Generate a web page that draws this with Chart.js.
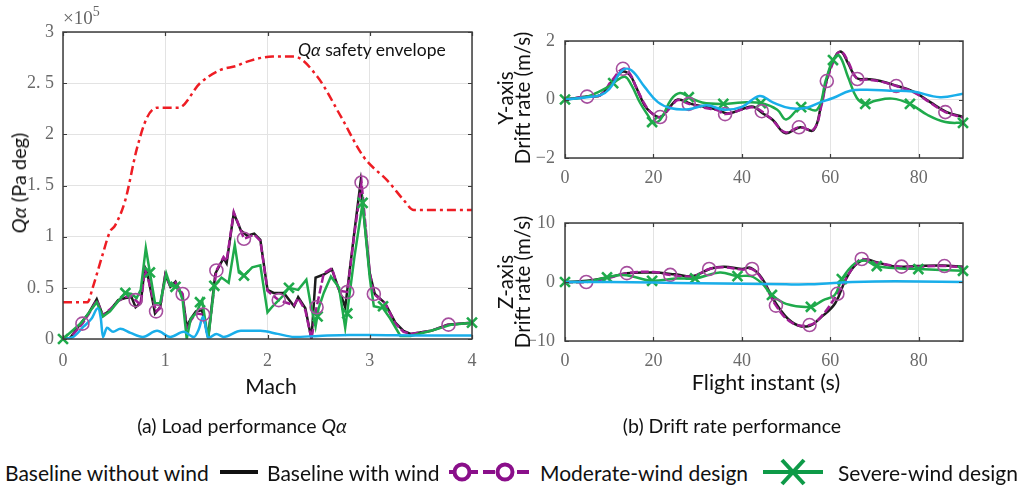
<!DOCTYPE html>
<html>
<head>
<meta charset="utf-8">
<script src="https://cdn.jsdelivr.net/npm/chart.js@4.4.1/dist/chart.umd.min.js"></script>
<style>
  body { margin: 0; background: #fff; width: 1031px; height: 489px; position: relative; overflow: hidden; font-family: Lato, "Noto Sans", sans-serif; color: #111; }
  canvas { position: absolute; }
  .txt { position: absolute; white-space: nowrap; }
  .rot { position: absolute; transform: translate(-50%, -50%) rotate(-90deg); text-align: center; white-space: nowrap; }
  .ctr { transform: translate(-50%, -50%); }
  .leg { position: absolute; top: 460px; font-size: 21px; white-space: nowrap; }
</style>
</head>
<body>
<canvas id="qaChart" width="490" height="400" style="left:0;top:0"></canvas>
<canvas id="yChart" width="541" height="200" style="left:490px;top:0"></canvas>
<canvas id="zChart" width="541" height="200" style="left:490px;top:200px"></canvas>

<div class="txt" style="left:63px;top:5px;font:19px 'Liberation Serif';color:#666">&times;10<sup style="font-size:14px;position:relative;top:-1px">5</sup></div>
<div class="txt" style="left:298px;top:39px;font-size:17.5px"><i>Q&alpha;</i> safety envelope</div>
<div class="rot" style="left:18px;top:183px;font-size:20px"><i>Q&alpha;</i> (Pa deg)</div>
<div class="txt ctr" style="left:271px;top:385px;font-size:21px">Mach</div>
<div class="rot" style="left:514px;top:98px;font-size:20.5px;line-height:17px">Y-axis<br>Drift rate (m/s)</div>
<div class="rot" style="left:514px;top:282px;font-size:20.5px;line-height:17px">Z-axis<br>Drift rate (m/s)</div>
<div class="txt ctr" style="left:766px;top:382px;font-size:21.5px">Flight instant (s)</div>
<div class="txt ctr" style="left:242px;top:425px;font-size:19.5px">(a) Load performance <i>Q&alpha;</i></div>
<div class="txt ctr" style="left:732px;top:425px;font-size:19.5px">(b) Drift rate performance</div>

<div class="leg" style="left:5px">Baseline without wind</div>
<svg style="position:absolute;left:218px;top:462px" width="44" height="20"><line x1="2" y1="10" x2="40" y2="10" stroke="#111" stroke-width="4"/></svg>
<div class="leg" style="left:267px">Baseline with wind</div>
<svg style="position:absolute;left:447px;top:460px" width="84" height="24">
  <line x1="2" y1="12" x2="82" y2="12" stroke="#8a0f8a" stroke-width="4" stroke-dasharray="12,5"/>
  <circle cx="15" cy="12" r="7.5" fill="#fff" stroke="#8a0f8a" stroke-width="4"/>
  <circle cx="58" cy="12" r="7.5" fill="#fff" stroke="#8a0f8a" stroke-width="4"/>
</svg>
<div class="leg" style="left:540px">Moderate-wind design</div>
<svg style="position:absolute;left:760px;top:458px" width="66" height="28">
  <line x1="3" y1="14" x2="63" y2="14" stroke="#0e9a48" stroke-width="4"/>
  <line x1="22" y1="2" x2="44" y2="26" stroke="#0e9a48" stroke-width="4"/>
  <line x1="44" y1="2" x2="22" y2="26" stroke="#0e9a48" stroke-width="4"/>
</svg>
<div class="leg" style="left:838px">Severe-wind design</div>

<script>
// ---- Q-alpha vs Mach (values in units of 1e5 Pa deg) ----
const envMach = [0, 0.24, 0.29, 0.38, 0.46, 0.51, 0.61, 0.72, 0.82, 0.92, 1.13, 1.34, 1.54, 1.7, 1.77, 2.05, 2.26, 2.49, 2.72, 2.94, 3.18, 3.33, 3.43, 4.0];
const envQa = [0.36, 0.36, 0.5, 0.8, 1.05, 1.11, 1.36, 1.85, 2.16, 2.26, 2.26, 2.5, 2.63, 2.67, 2.7, 2.76, 2.76, 2.56, 2.17, 1.78, 1.54, 1.36, 1.26, 1.26];

const noWindMach = [0, 0.1, 0.2, 0.28, 0.34, 0.37, 0.39, 0.43, 0.49, 0.56, 0.66, 0.78, 0.92, 1.05, 1.18, 1.28, 1.33, 1.37, 1.42, 1.5, 1.57, 1.74, 1.93, 2.1, 2.26, 2.5, 2.8, 3.0, 3.5, 4.0];
const noWindQa = [0, 0.02, 0.12, 0.2, 0.3, 0.2, 0.02, 0.11, 0.07, 0.1, 0.06, 0.02, 0.08, 0.02, 0.07, 0.02, 0.1, 0.22, 0.01, 0.05, 0.02, 0.08, 0.08, 0.05, 0.02, 0.03, 0.04, 0.04, 0.035, 0.035];

const windMach = [0, 0.07, 0.18, 0.25, 0.33, 0.39, 0.46, 0.54, 0.61, 0.67, 0.71, 0.76, 0.8, 0.83, 0.9, 0.95, 1.0, 1.05, 1.1, 1.17, 1.21, 1.25, 1.3, 1.36, 1.42, 1.49, 1.57, 1.6, 1.67, 1.74, 1.8, 1.87, 1.93, 2.0, 2.06, 2.16, 2.26, 2.3, 2.37, 2.43, 2.47, 2.55, 2.63, 2.7, 2.76, 2.85, 2.91, 3.0, 3.05, 3.15, 3.25, 3.33, 3.4, 3.6, 3.76, 4.0];
const windQa = [0, 0.01, 0.16, 0.25, 0.39, 0.23, 0.28, 0.38, 0.4, 0.41, 0.31, 0.35, 0.7, 0.62, 0.25, 0.31, 0.63, 0.51, 0.56, 0.41, 0.12, 0.2, 0.27, 0.28, 0.02, 0.64, 0.79, 0.74, 1.23, 1.06, 1.01, 1.03, 0.97, 0.48, 0.45, 0.45, 0.32, 0.41, 0.3, 0.0, 0.6, 0.63, 0.68, 0.48, 0.31, 1.05, 1.53, 0.64, 0.44, 0.35, 0.16, 0.08, 0.05, 0.08, 0.14, 0.16];

const modMach = [0, 0.07, 0.19, 0.25, 0.33, 0.39, 0.46, 0.54, 0.61, 0.67, 0.71, 0.76, 0.8, 0.83, 0.91, 0.95, 1.0, 1.05, 1.1, 1.17, 1.21, 1.25, 1.3, 1.37, 1.42, 1.5, 1.57, 1.6, 1.67, 1.77, 1.8, 1.87, 1.93, 2.0, 2.06, 2.11, 2.26, 2.3, 2.37, 2.43, 2.48, 2.55, 2.63, 2.7, 2.78, 2.85, 2.92, 3.0, 3.04, 3.15, 3.25, 3.33, 3.4, 3.6, 3.77, 4.0];
const modQa = [0, 0.01, 0.15, 0.24, 0.38, 0.23, 0.29, 0.37, 0.41, 0.42, 0.38, 0.33, 0.68, 0.6, 0.27, 0.3, 0.62, 0.52, 0.55, 0.44, 0.1, 0.18, 0.25, 0.24, 0.02, 0.67, 0.8, 0.76, 1.24, 0.98, 0.99, 1.02, 0.96, 0.47, 0.42, 0.38, 0.33, 0.4, 0.28, 0.0, 0.31, 0.64, 0.69, 0.47, 0.46, 1.03, 1.53, 0.65, 0.44, 0.35, 0.15, 0.07, 0.05, 0.08, 0.14, 0.16];
const modMarkMach = [0.19, 0.71, 0.91, 1.17, 1.37, 1.5, 1.77, 2.11, 2.48, 2.78, 2.92, 3.04, 3.77];
const modMarkQa = [0.15, 0.38, 0.27, 0.44, 0.24, 0.67, 0.98, 0.38, 0.31, 0.46, 1.53, 0.44, 0.14];

const sevMach = [0, 0.18, 0.33, 0.39, 0.46, 0.54, 0.61, 0.67, 0.72, 0.76, 0.81, 0.85, 0.9, 0.95, 1.01, 1.05, 1.1, 1.13, 1.17, 1.21, 1.25, 1.3, 1.36, 1.42, 1.48, 1.55, 1.62, 1.68, 1.72, 1.77, 1.85, 1.93, 2.0, 2.05, 2.15, 2.21, 2.3, 2.38, 2.42, 2.47, 2.5, 2.55, 2.62, 2.7, 2.76, 2.85, 2.93, 3.0, 3.04, 3.13, 3.2, 3.3, 3.4, 3.6, 3.8, 4.0];
const sevQa = [0, 0.16, 0.36, 0.22, 0.27, 0.37, 0.45, 0.44, 0.4, 0.48, 0.89, 0.65, 0.35, 0.35, 0.64, 0.52, 0.51, 0.5, 0.38, 0.0, 0.2, 0.25, 0.38, 0.0, 0.52, 0.6, 0.55, 0.92, 0.65, 0.62, 0.7, 0.72, 0.26, 0.32, 0.42, 0.5, 0.48, 0.58, 0.35, 0.12, 0.3, 0.45, 0.61, 0.5, 0.11, 0.8, 1.33, 0.6, 0.32, 0.3, 0.2, 0.03, 0.03, 0.08, 0.14, 0.16];
const sevMarkMach = [0, 0.61, 0.85, 1.1, 1.34, 1.48, 1.77, 2.21, 2.49, 2.78, 2.93, 3.13, 4.0];
const sevMarkQa = [0, 0.45, 0.65, 0.51, 0.36, 0.52, 0.62, 0.5, 0.22, 0.25, 1.33, 0.32, 0.16];

// ---- Y-axis drift rate (m/s) vs flight time (s) ----
const yNoWindT = [0, 5, 8, 10, 13, 15, 18, 21, 24, 28, 32, 36, 40, 44, 47, 51, 54.7, 57.7, 60.6, 64.5, 68.3, 73.5, 78.7, 84.8, 90];
const yNoWindV = [0, 0.08, 0.15, 0.35, 1.0, 1.0, 0.43, -0.09, -0.3, -0.33, -0.2, -0.35, -0.25, 0.12, -0.1, -0.3, -0.28, -0.1, 0.05, 0.3, 0.33, 0.3, 0.27, 0.08, 0.2];
const yWindT = [0, 5, 8, 10.6, 13, 14.6, 16, 18, 19.5, 21.5, 24, 25.5, 28.5, 31.5, 34.5, 36.8, 40.6, 42.6, 44.5, 47, 49.8, 53.2, 56.2, 58, 59.6, 61.5, 62.6, 64, 66, 68.3, 71.3, 75, 78.8, 82.5, 86.2, 90];
const yWindV = [0, 0.1, 0.15, 0.6, 0.95, 0.85, 0.45, -0.2, -0.45, -0.6, -0.2, 0, -0.15, -0.25, -0.35, -0.48, -0.3, -0.25, -0.45, -0.7, -1.15, -0.95, -1.05, -0.12, 0.9, 1.57, 1.62, 1.24, 0.73, 0.7, 0.63, 0.47, 0.27, -0.08, -0.42, -0.6];
const yModT = [0, 5, 8, 10.6, 13.1, 14.6, 16, 18, 19.5, 21.5, 24, 25.5, 28, 31.5, 34.5, 36.2, 40.6, 42.6, 44.5, 47, 49.8, 52.9, 56.2, 58, 59.2, 61.5, 62.6, 64, 66.1, 68.3, 71.3, 74.9, 78.8, 82.5, 86, 90];
const yModV = [0, 0.1, 0.15, 0.65, 1.05, 0.9, 0.45, -0.15, -0.45, -0.6, -0.25, -0.02, -0.15, -0.28, -0.37, -0.5, -0.32, -0.27, -0.4, -0.72, -1.12, -0.95, -1.02, -0.2, 0.63, 1.55, 1.63, 1.3, 0.7, 0.68, 0.62, 0.46, 0.25, -0.1, -0.43, -0.62];
const yModMarkT = [5, 13.1, 21.5, 28, 36.2, 44.5, 52.9, 59.2, 66.1, 74.9, 86];
const yModMarkV = [0.1, 1.05, -0.6, -0.15, -0.5, -0.4, -0.95, 0.63, 0.7, 0.46, -0.43];
const ySevT = [0, 5, 10, 10.9, 13.5, 15, 17, 19, 19.7, 21.5, 24, 26, 28, 31, 35.8, 40, 44.3, 48, 50, 53.4, 57, 59, 60.6, 62, 64, 66, 67.9, 70, 74, 78, 82, 86, 90];
const ySevV = [0, 0.1, 0.45, 0.56, 0.78, 0.5, -0.12, -0.6, -0.77, -0.7, 0, 0.22, 0.08, -0.1, -0.15, -0.1, -0.12, -0.35, -0.68, -0.26, -0.35, 0.67, 1.35, 1.5, 0.77, 0.05, -0.15, -0.05, 0.03, -0.15, -0.53, -0.77, -0.8];
const ySevMarkT = [0, 10.9, 19.7, 28, 35.8, 44.3, 53.4, 60.6, 67.9, 78, 90];
const ySevMarkV = [0, 0.56, -0.77, 0.08, -0.15, -0.12, -0.26, 1.35, -0.15, -0.15, -0.8];

// ---- Z-axis drift rate (m/s) vs flight time (s) ----
const zNoWindT = [0, 10, 20, 30, 40, 50, 55, 60, 65, 70, 80, 90];
const zNoWindV = [0, 0, -0.1, -0.2, -0.3, -0.4, -0.4, -0.2, 0, 0.1, 0.1, 0];
const zWindT = [0, 5, 10, 14, 20, 25, 29, 33, 36, 40, 42, 44.5, 47.5, 51.3, 55, 58, 61.1, 63.4, 65.6, 68, 70.2, 74.8, 79.3, 85.4, 90];
const zWindV = [0, 0.2, 0.8, 1.5, 1.6, 1.3, 1.0, 2.3, 2.6, 2.2, 2.4, 0.7, -3.4, -6.8, -7.5, -5.9, -3.6, 0.3, 2.8, 3.8, 3.4, 2.6, 2.7, 2.8, 2.6];
const zModT = [0, 4.8, 10, 14, 20, 23.8, 29, 32.6, 36, 40, 42.3, 44.5, 47.7, 51.3, 55.3, 58, 61.6, 63.4, 65.6, 67.1, 70.2, 76.1, 79.3, 85.8, 90];
const zModV = [0, 0, 0.7, 1.5, 1.7, 1.2, 1.0, 2.2, 2.5, 2.1, 2.2, 0.5, -4.0, -6.9, -7.3, -5.8, -2.0, 0.4, 2.9, 3.9, 3.3, 2.6, 2.6, 2.7, 2.5];
const zModMarkT = [4.8, 14, 23.8, 32.6, 42.3, 47.7, 55.3, 61.6, 67.1, 76.1, 85.8];
const zModMarkV = [0, 1.5, 1.2, 2.2, 2.2, -4.0, -7.3, -2.0, 3.9, 2.6, 2.7];
const zSevT = [0, 5, 9.5, 13, 16, 19.7, 25, 29.4, 35, 39, 42, 44.5, 46.8, 50, 55.6, 58.3, 61, 62.6, 65.6, 68, 70.5, 75.8, 79.9, 90];
const zSevV = [0, 0.1, 0.8, 1.2, 0.8, 0.2, 0.6, 0.6, 1.6, 1.0, 1.0, -0.2, -2.2, -3.7, -4.2, -3.1, -2.2, 0.5, 3.2, 3.6, 2.7, 2.3, 2.2, 1.9];
const zSevMarkT = [0, 9.5, 19.7, 29.4, 39, 46.8, 55.6, 62.6, 70.5, 79.9, 90];
const zSevMarkV = [0, 0.8, 0.2, 0.6, 1.0, -2.2, -4.2, 0.5, 2.7, 2.2, 1.9];

const BLUE = "#19aeea";
const BLACK = "#1c1c1c";
const PURPLE = "#a01d94";
const PURPLE_MARK = "#a64e9e";
const GREEN = "#1faa4b";
const RED = "#ee1d24";

const tickFont = { family: "'Liberation Serif', 'DejaVu Serif', serif", size: 18 };
const tickColor = "#6a6a6a";

const pts = (xs, ys) => xs.map((x, i) => ({ x: x, y: ys[i] }));

function lineSet(xs, ys, color, extra) {
  return Object.assign({
    data: pts(xs, ys),
    borderColor: color,
    borderWidth: 2.5,
    pointRadius: 0,
    fill: false,
    tension: 0
  }, extra || {});
}

function markSet(xs, ys, color, style, radius) {
  return {
    data: pts(xs, ys),
    showLine: false,
    borderColor: color,
    backgroundColor: "rgba(0,0,0,0)",
    borderWidth: style === "circle" ? 1.6 : 2.6,
    pointStyle: style,
    pointRadius: radius,
    clip: false
  };
}

// MATLAB-like axes box with inward tick marks on all four sides
const boxPlugin = {
  id: "axesBox",
  afterDatasetsDraw(chart) {
    const { ctx, chartArea: a, scales } = chart;
    ctx.save();
    ctx.strokeStyle = "#3c3c3c";
    ctx.lineWidth = 1.5;
    ctx.strokeRect(a.left, a.top, a.right - a.left, a.bottom - a.top);
    ctx.lineWidth = 1.2;
    ctx.beginPath();
    scales.x.ticks.forEach(t => {
      const px = Math.round(scales.x.getPixelForValue(t.value)) + 0.5;
      ctx.moveTo(px, a.bottom); ctx.lineTo(px, a.bottom - 4);
      ctx.moveTo(px, a.top); ctx.lineTo(px, a.top + 4);
    });
    scales.y.ticks.forEach(t => {
      const py = Math.round(scales.y.getPixelForValue(t.value)) + 0.5;
      ctx.moveTo(a.left, py); ctx.lineTo(a.left + 4, py);
      ctx.moveTo(a.right, py); ctx.lineTo(a.right - 4, py);
    });
    ctx.stroke();
    ctx.restore();
  }
};

function axisOptions(cfg) {
  return {
    responsive: false,
    animation: false,
    devicePixelRatio: 1,
    layout: { padding: { top: cfg.padTop, right: cfg.padRight, left: 0, bottom: 0 } },
    plugins: { legend: { display: false }, tooltip: { enabled: false } },
    scales: {
      x: {
        type: "linear",
        min: cfg.xMin, max: cfg.xMax,
        afterFit: s => { s.height = cfg.xHeight; },
        grid: { color: "#e3e3e3", drawTicks: false },
        border: { display: false },
        ticks: {
          stepSize: cfg.xStep, includeBounds: false, maxRotation: 0, autoSkip: false,
          padding: cfg.xPad, font: tickFont, color: tickColor
        }
      },
      y: {
        type: "linear",
        min: cfg.yMin, max: cfg.yMax,
        afterFit: s => { s.width = cfg.yWidth; },
        grid: { color: "#e3e3e3", drawTicks: false },
        border: { display: false },
        ticks: {
          stepSize: cfg.yStep, padding: cfg.yPad, font: tickFont, color: tickColor,
          callback: cfg.yFmt
        }
      }
    }
  };
}

const minus = v => (v < 0 ? "\u2212" + Math.abs(v) : String(v));

new Chart(document.getElementById("qaChart"), {
  type: "line",
  data: {
    datasets: [
      markSet(modMarkMach, modMarkQa, PURPLE_MARK, "circle", 6.5),
      markSet(sevMarkMach, sevMarkQa, GREEN, "crossRot", 7),
      lineSet(noWindMach, noWindQa, BLUE, { tension: 0.3, cubicInterpolationMode: "monotone" }),
      lineSet(sevMach, sevQa, GREEN),
      lineSet(modMach, modQa, PURPLE, { borderDash: [8, 3] }),
      lineSet(windMach, windQa, BLACK),
      lineSet(envMach, envQa, RED, { borderDash: [9, 4, 3, 4], cubicInterpolationMode: "monotone" })
    ]
  },
  options: axisOptions({
    padTop: 32, padRight: 18, xHeight: 61, yWidth: 63,
    xMin: 0, xMax: 4, xStep: 1, yMin: 0, yMax: 3, yStep: 0.5,
    xPad: 11, yPad: 9,
    yFmt: v => (Number.isInteger(v) ? String(v) : v.toFixed(1).replace(".", ". "))
  }),
  plugins: [boxPlugin]
});

new Chart(document.getElementById("yChart"), {
  type: "line",
  data: {
    datasets: [
      lineSet(yNoWindT, yNoWindV, BLUE, { tension: 0.4 }),
      markSet(yModMarkT, yModMarkV, PURPLE_MARK, "circle", 6.5),
      markSet(ySevMarkT, ySevMarkV, GREEN, "crossRot", 7),
      lineSet(ySevT, ySevV, GREEN, { tension: 0.4 }),
      lineSet(yModT, yModV, PURPLE, { borderDash: [8, 3], tension: 0.4 }),
      lineSet(yWindT, yWindV, BLACK, { tension: 0.4 })
    ]
  },
  options: axisOptions({
    padTop: 41, padRight: 68, xHeight: 42, yWidth: 75,
    xMin: 0, xMax: 90, xStep: 20, yMin: -2, yMax: 2, yStep: 2,
    xPad: 9, yPad: 10, yFmt: minus
  }),
  plugins: [boxPlugin]
});

new Chart(document.getElementById("zChart"), {
  type: "line",
  data: {
    datasets: [
      lineSet(zNoWindT, zNoWindV, BLUE, { tension: 0.4 }),
      markSet(zModMarkT, zModMarkV, PURPLE_MARK, "circle", 6.5),
      markSet(zSevMarkT, zSevMarkV, GREEN, "crossRot", 7),
      lineSet(zSevT, zSevV, GREEN, { tension: 0.4 }),
      lineSet(zModT, zModV, PURPLE, { borderDash: [8, 3], tension: 0.4 }),
      lineSet(zWindT, zWindV, BLACK, { tension: 0.4 })
    ]
  },
  options: axisOptions({
    padTop: 23, padRight: 68, xHeight: 59, yWidth: 75,
    xMin: 0, xMax: 90, xStep: 20, yMin: -10, yMax: 10, yStep: 10,
    xPad: 9, yPad: 10, yFmt: minus
  }),
  plugins: [boxPlugin]
});
</script>
</body>
</html>
